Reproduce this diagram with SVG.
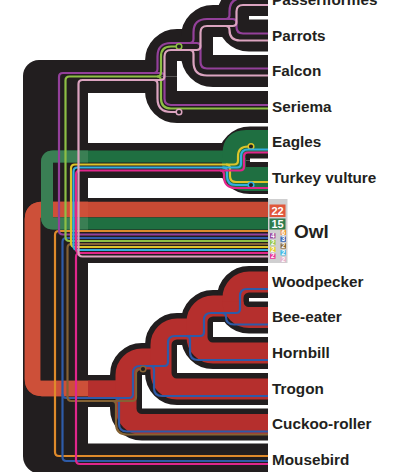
<svg xmlns="http://www.w3.org/2000/svg" width="394" height="472" viewBox="0 0 394 472">
<style>
.bk{fill:none;stroke:#221e1f;stroke-width:32}
.ln{fill:none;stroke-width:2.2}
.lab{font-family:"Liberation Sans",Arial,sans-serif;font-weight:bold;font-size:15.3px;fill:#231f20}
.cnt{font-family:"Liberation Sans",Arial,sans-serif;font-weight:bold;fill:#fff;text-anchor:middle}
.end{fill:#221e1f;stroke-width:1.5}
</style>
<rect width="394" height="472" fill="#fff"/>
<g id="tree">
<path d="M39,60 H88 V474 H41 A18,18 0 0 1 23,456 V76 A16,16 0 0 1 39,60 Z" fill="#221e1f"/>
<path class="bk" style="stroke-width:33" d="M80,76.5 H161"/>
<path class="bk" d="M161,76.5 V61 A16,16 0 0 1 177,45 H197"/>
<path class="bk" d="M161,76.5 V91 A16,16 0 0 0 177,107 H268"/>
<path class="bk" d="M197,45 V37 A16,16 0 0 1 213,21 H233"/>
<path class="bk" d="M197,45 V55 A16,16 0 0 0 213,71 H268"/>
<path class="bk" d="M233,21 V16 A16,16 0 0 1 249,0 H268"/>
<path class="bk" d="M233,21 V19.5 A16,16 0 0 0 249,35.5 H268"/>
<path class="bk" style="stroke-width:35" d="M80,160.5 H234"/>
<path class="bk" d="M234,160.5 V158.5 A16,16 0 0 1 250,142.5 H268"/>
<path class="bk" d="M234,160.5 V162 A16,16 0 0 0 250,178 H268"/>
<rect x="80" y="198" width="188" height="65" fill="#221e1f"/>
<path class="bk" d="M80,391 H126"/>
<path class="bk" d="M126,391 V375 A16,16 0 0 1 142,359 H161"/>
<path class="bk" d="M126,391 V408.5 A16,16 0 0 0 142,424.5 H268"/>
<path class="bk" d="M161,359 V345 A16,16 0 0 1 177,329 H197"/>
<path class="bk" d="M161,359 V373 A16,16 0 0 0 177,389 H268"/>
<path class="bk" d="M197,329 V322 A16,16 0 0 1 213,306 H233"/>
<path class="bk" d="M197,329 V337 A16,16 0 0 0 213,353 H268"/>
<path class="bk" d="M233,306 V298 A16,16 0 0 1 249,282 H268"/>
<path class="bk" d="M233,306 V301.5 A16,16 0 0 0 249,317.5 H268"/>
<rect x="80" y="443.5" width="188" height="33" fill="#221e1f"/>
</g>
<g id="connectors">
<g id="red" fill="none">
<path d="M268,209.5 H42 Q32.5,209.5 32.5,219 V379 Q32.5,388.5 42,388.5 H126" stroke="#c84a34" stroke-width="15.5"/>
<path d="M88,209.5 H42 Q32.5,209.5 32.5,219 V379 Q32.5,388.5 42,388.5 H88" stroke="#cd5039" stroke-width="15.5"/>
<path d="M88,389 H126" stroke="#b52f2d" stroke-width="17"/>
<g stroke="#b52f2d" stroke-width="21">
<path d="M126,389 V375 A16,16 0 0 1 142,359 H161"/>
<path d="M126,389 V408.5 A16,16 0 0 0 142,424.5 H268"/>
<path d="M161,359 V345 A16,16 0 0 1 177,329 H197"/>
<path d="M161,359 V373 A16,16 0 0 0 177,389 H268"/>
<path d="M197,329 V322 A16,16 0 0 1 213,306 H233"/>
<path d="M197,329 V337 A16,16 0 0 0 213,353 H268"/>
<path d="M233,306 V298 A16,16 0 0 1 249,282 H268"/>
<path d="M233,306 V301.5 A16,16 0 0 0 249,317.5 H268"/>
</g>
</g>
<g id="green" fill="none">
<path d="M268,223.5 H53 Q47,223.5 47,217.5 V162.5 Q47,156.5 53,156.5 H236" stroke="#1f6f41" stroke-width="12"/>
<path d="M88,223.5 H53 Q47,223.5 47,217.5 V162.5 Q47,156.5 53,156.5 H88" stroke="#3d8157" stroke-width="12" opacity="0.9"/>
<path d="M234,161 V153.5 Q234,141.5 246,141.5 H268" stroke="#1f6f41" stroke-width="23"/>
<path d="M234,158 V167 Q234,179 246,179 H268" stroke="#1f6f41" stroke-width="24"/>
</g>
<path id="orange" class="ln" stroke="#df8a2b" d="M268,231 H59 Q55,231 55,235 V452 Q55,456 59,456 H268"/>
<g id="purple" class="ln" stroke="#93409a">
<path d="M268,234.5 H63 Q59,234.5 59,230.5 V77 Q59,73 63,73 H153.5 Q157.5,73 157.5,69 V56.5 Q157.5,43 171,43 H189.5 Q193.5,43 193.5,39 V32.5 Q193.5,19 207,19 H225.5 Q229.5,19 229.5,15 V11.5 Q229.5,-2 243,-2 H268"/>
<path d="M153.5,73 H160.5 Q164.5,73 164.5,77 V98.5 Q164.5,105 171,105 H268"/>
<path d="M189.5,43 H196.5 Q200.5,43 200.5,47 V62 Q200.5,68.5 207,68.5 H268"/>
<path d="M225.5,19 H232.5 Q236.5,19 236.5,23 V27 Q236.5,33.5 243,33.5 H268"/>
</g>
<g id="blue" class="ln" stroke="#2e5ba8">
<path d="M268,238 H66.5 Q62.5,238 62.5,242 V457 Q62.5,461 66.5,461 H268"/>
<path d="M62.5,394 Q62.5,398 66.5,398 H129 Q133,398 133,394 V373 Q133,366 140,366 H164 Q168,366 168,362 V343 Q168,336 175,336 H200 Q204,336 204,332 V320 Q204,313 211,313 H236 Q240,313 240,309 V296 Q240,289 247,289 H268"/>
<path d="M115,398 Q119,398 119,402 V423.5 Q119,431.5 127,431.5 H268"/>
<path d="M150,366 Q154,366 154,370 V388 Q154,396 162,396 H268"/>
<path d="M186,336 Q190,336 190,340 V352 Q190,360 198,360 H268"/>
<path d="M222,313 Q226,313 226,317 Q226,324.5 234,324.5 H268"/>
</g>
<g id="lime" class="ln" stroke="#8dbf45">
<path d="M268,241 H69.5 Q65.5,241 65.5,237 V80.5 Q65.5,76.5 69.5,76.5 H157 Q161,76.5 161,72.5 V56.5 Q161,46.5 171,46.5 H176"/>
<path d="M157,76.5 Q161,76.5 161,80.5 V98.5 Q161,108.5 171,108.5 H268"/>
<circle class="end" stroke="#8dbf45" cx="179" cy="46.5" r="2.8"/>
</g>
<g id="brown" class="ln" stroke="#846234">
<path d="M268,244 H71.5 Q67.5,244 67.5,248 V397 Q67.5,401 71.5,401 H132 Q136,401 136,397 V373 Q136,369 140,369"/>
<path d="M112,401 Q116,401 116,405 V423.5 Q116,434.5 127,434.5 H268"/>
<circle class="end" stroke="#846234" cx="143" cy="369" r="2.8"/>
</g>
<g id="yellow" class="ln" stroke="#dcc42a">
<path d="M268,247 H75 Q71,247 71,243 V168.5 Q71,164.5 75,164.5 H234 Q238,164.5 238,160.5 V156.5 Q238,146.5 248,146.5"/>
<path d="M226,164.5 Q230,164.5 230,168.5 V176 Q230,182 236,182 H268"/>
<circle class="end" stroke="#dcc42a" cx="251" cy="146.5" r="2.8"/>
</g>
<g id="cyan" class="ln" stroke="#33aee0">
<path d="M268,250 H77.5 Q73.5,250 73.5,246 V171.5 Q73.5,167.5 77.5,167.5 H237 Q241,167.5 241,163.5 V156.5 Q241,149.5 248,149.5 H268"/>
<path d="M223,167.5 Q227,167.5 227,171.5 V176 Q227,185 236,185 H248"/>
<circle class="end" stroke="#33aee0" cx="251" cy="185" r="2.8"/>
</g>
<g id="magenta" class="ln" stroke="#e0268b">
<path d="M268,253 H80 Q76,253 76,249 V174.5 Q76,170.5 80,170.5 H240 Q244,170.5 244,166.5 V156.5 Q244,152.5 248,152.5 H268"/>
<path d="M220,170.5 Q224,170.5 224,174.5 V176 Q224,188 236,188 H268"/>
<path d="M80,253 Q76,253 76,257 V460 Q76,464 80,464 H268"/>
</g>
<g id="lightpink" class="ln" stroke="#dca4c0">
<path d="M268,256.5 H82.5 Q78.5,256.5 78.5,252.5 V84 Q78.5,80 82.5,80 H160.5 Q164.5,80 164.5,76 V56.5 Q164.5,50 171,50 H196.5 Q200.5,50 200.5,46 V32.5 Q200.5,26 207,26 H232.5 Q236.5,26 236.5,22 V11.5 Q236.5,5 243,5 H268"/>
<path d="M153.5,80 Q157.5,80 157.5,84 V98.5 Q157.5,112 171,112 H176"/>
<path d="M189.5,50 Q193.5,50 193.5,54 V62 Q193.5,75.5 207,75.5 H268"/>
<path d="M225.5,26 Q229.5,26 229.5,30 Q229.5,40.5 240,40.5 H268"/>
<circle class="end" stroke="#dca4c0" cx="179" cy="112" r="2.8"/>
</g>
</g>
<g id="counts">
<rect x="268" y="199" width="19.5" height="64" fill="#cfcfd0"/>
<rect x="269.5" y="204.5" width="16" height="12.5" fill="#e0573b"/>
<text class="cnt" x="277.5" y="215" font-size="11">22</text>
<rect x="269.5" y="218.5" width="16" height="11" fill="#2f7d4e"/>
<text class="cnt" x="277.5" y="228.3" font-size="11">15</text>
<g font-size="6.5">
<rect x="280.5" y="229.8" width="5.5" height="5.2" fill="#f09a3a"/><text class="cnt" x="283.3" y="234.5">6</text>
<rect x="270" y="233.2" width="5.5" height="5.2" fill="#9b4aa2"/><text class="cnt" x="272.8" y="237.9">4</text>
<rect x="280.5" y="236.6" width="5.5" height="5.2" fill="#3a66b4"/><text class="cnt" x="283.3" y="241.3">3</text>
<rect x="270" y="240" width="5.5" height="5.2" fill="#96c850"/><text class="cnt" x="272.8" y="244.7">2</text>
<rect x="280.5" y="243.4" width="5.5" height="5.2" fill="#8c6a38"/><text class="cnt" x="283.3" y="248.1">2</text>
<rect x="270" y="246.8" width="5.5" height="5.2" fill="#e6cf30"/><text class="cnt" x="272.8" y="251.5">2</text>
<rect x="280.5" y="250.2" width="5.5" height="5.2" fill="#45bce8"/><text class="cnt" x="283.3" y="254.9">2</text>
<rect x="270" y="253.6" width="5.5" height="5.2" fill="#e8359a"/><text class="cnt" x="272.8" y="258.3">2</text>
<rect x="280.5" y="257" width="5.5" height="5.2" fill="#e6b4cc"/><text class="cnt" x="283.3" y="261.7">2</text>
</g>
</g>
<g id="labels">
<g id="n-passeriformes"><text class="lab" x="272" y="5">Passeriformes</text></g>
<g id="n-parrots"><text class="lab" x="272" y="40.5">Parrots</text></g>
<g id="n-falcon"><text class="lab" x="272" y="76.3">Falcon</text></g>
<g id="n-seriema"><text class="lab" x="272" y="111.8">Seriema</text></g>
<g id="n-eagles"><text class="lab" x="272" y="147">Eagles</text></g>
<g id="n-turkey"><text class="lab" x="272" y="182.5">Turkey vulture</text></g>
<g id="n-owl"><text class="lab" x="294" y="237.5" style="font-size:19px">Owl</text></g>
<g id="n-woodpecker"><text class="lab" x="272" y="286.7">Woodpecker</text></g>
<g id="n-beeeater"><text class="lab" x="272" y="322.3">Bee-eater</text></g>
<g id="n-hornbill"><text class="lab" x="272" y="357.9">Hornbill</text></g>
<g id="n-trogon"><text class="lab" x="272" y="393.5">Trogon</text></g>
<g id="n-cuckoo"><text class="lab" x="272" y="429.1">Cuckoo-roller</text></g>
<g id="n-mousebird"><text class="lab" x="272" y="464.7">Mousebird</text></g>
</g>
</svg>
